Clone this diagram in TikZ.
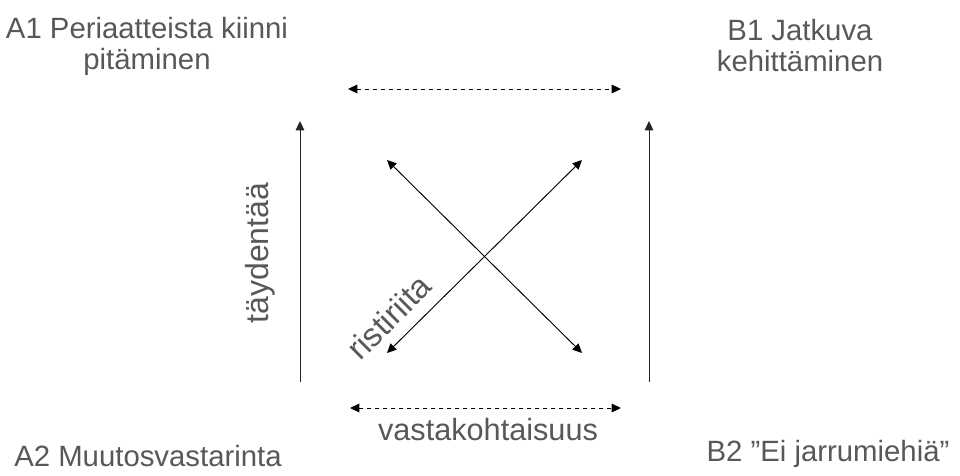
\documentclass[tikz,border=0pt]{standalone}
\usepackage{fontspec}
\setmainfont{Liberation Sans}
\usepackage{xcolor}
\usepackage{tikz}
\usetikzlibrary{arrows.meta, positioning, calc}
\definecolor{labelgray}{RGB}{88,88,88}

\tikzset{
    corner/.style={text=labelgray, font=\fontsize{22}{23.25}\selectfont, align=center},
    axislabel/.style={text=labelgray, font=\fontsize{23}{24}\selectfont},
    twoway/.style={{Triangle[length=7pt,width=6.5pt]}-{Triangle[length=7pt,width=6.5pt]}, line width=0.7pt},
    oneway/.style={-{Triangle[length=7pt,width=6.5pt]}, line width=0.7pt, draw=black!85}
}

\begin{document}
\begin{tikzpicture}[x=0.75pt, y=-0.75pt]
\useasboundingbox (0,0) rectangle (960,475);

% corners
\node[corner] (a1) at (147,46) {A1 Periaatteista kiinni\\pitäminen};
\node[corner] (b1) at (800,46) {B1 Jatkuva\\kehittäminen};
\node[corner, anchor=base] (a2) at (148,466) {A2 Muutosvastarinta};
\node[corner, anchor=base] (b2) at (828,461) {B2 "Ei jarrumiehiä"};

% arrow ends
\coordinate (tl) at (348,89);
\coordinate (tr) at (621,89);
\coordinate (bl) at (350,408);
\coordinate (br) at (621,408);
\coordinate (lb) at (300,382);
\coordinate (lt) at (300,121);
\coordinate (rb) at (649,382);
\coordinate (rt) at (649,121);
\coordinate (x1) at (387,160);
\coordinate (x2) at (582,160);
\coordinate (x3) at (387,353);
\coordinate (x4) at (582,353);

\draw[twoway, dashed] (tl) -- (tr);
\draw[twoway, dashed] (bl) -- (br);
\draw[oneway] (lb) -- (lt);
\draw[oneway] (rb) -- (rt);
\draw[twoway] (x1) -- (x4);
\draw[twoway] (x3) -- (x2);

% labels
\node[axislabel, anchor=base] (vasta) at (488,440) {vastakohtaisuus};
\node[axislabel, rotate=90, font=\fontsize{24}{24}\selectfont] (tayd) at (260,253) {täydentää};
\node[axislabel, rotate=45, font=\fontsize{24.5}{25}\selectfont] (risti) at (389,317) {ristiriita};
\end{tikzpicture}
\end{document}
